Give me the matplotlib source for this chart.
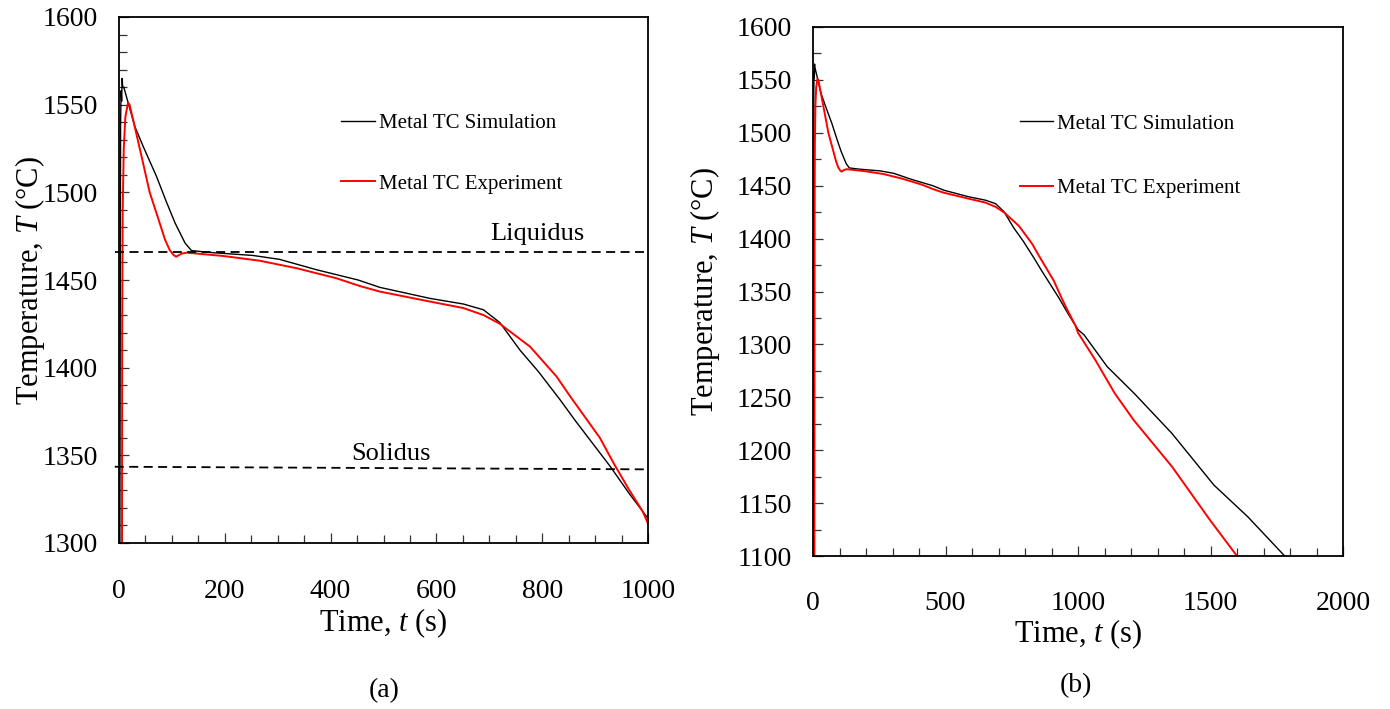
import matplotlib
matplotlib.use("Agg")
import matplotlib.pyplot as plt
from matplotlib.ticker import MultipleLocator

plt.rcParams['font.family'] = ['Liberation Serif', 'DejaVu Serif']
plt.rcParams['mathtext.fontset'] = 'custom'
plt.rcParams['mathtext.rm'] = 'Liberation Serif'
plt.rcParams['mathtext.it'] = 'Liberation Serif:italic'

# ---- data ----
t_sim = [0, 3, 4, 5, 6, 7, 9, 30, 46, 71, 89, 106, 125, 137, 172, 253, 303, 374,
         452, 493, 588, 651, 689, 720, 758, 793, 834, 862, 929, 965, 1000, 1023,
         1110, 1211, 1354, 1513, 1641, 1780, 1800]
T_sim = [1000, 1540, 1558, 1552, 1565, 1560, 1560, 1537.5, 1526, 1509, 1495, 1482.5,
         1471, 1466.8, 1465.7, 1464, 1461.8, 1455.8, 1450, 1445.8, 1439.5, 1436.3,
         1433, 1425.7, 1410, 1397.7, 1381.6, 1370, 1343.5, 1328, 1314, 1309,
         1279, 1254, 1216, 1167, 1137, 1100, 1095]

t_exp = [0, 5, 6, 7, 9, 12, 17, 20, 27, 40, 58, 71, 87, 96, 103, 108, 118, 128, 197,
         266, 336, 411, 455, 493, 588, 651, 689, 720, 777, 827, 852, 909, 936, 963,
         990, 1000, 1066, 1138, 1210, 1355, 1498, 1600, 1620]
T_exp = [1000, 1010, 1420, 1490, 1525, 1543, 1551, 1550, 1541, 1524, 1500, 1488, 1473,
         1467, 1464.3, 1463.3, 1465, 1465.6, 1463.7, 1461, 1456.7, 1451, 1446.6,
         1443.4, 1437.7, 1434, 1430, 1425, 1412, 1395, 1384, 1360, 1345, 1331,
         1318, 1311, 1285, 1254, 1228.5, 1184.4, 1134, 1100, 1094]

liq_t = [-8, 1000]
liq_T = [1466, 1466]
sol_t = [-8, 1000]
sol_T = [1343.5, 1342]

sim_label = "Metal TC Simulation"
exp_label = "Metal TC Experiment"

W, H = 1390, 709
fig = plt.figure(figsize=(W / 100, H / 100), dpi=100)

def px_axes(x0, y0, x1, y1):
    return fig.add_axes([x0 / W, 1 - y1 / H, (x1 - x0) / W, (y1 - y0) / H])

axa = px_axes(119, 17, 648, 543)
axb = px_axes(813, 27, 1343, 556)

for ax in (axa, axb):
    ax.plot(t_sim, T_sim, color='black', lw=1.0, label=sim_label)
    ax.plot(t_exp, T_exp, color='#ff0000', lw=1.4, label=exp_label)
    for sp in ax.spines.values():
        sp.set_linewidth(1.3)
    ax.tick_params(which='both', direction='in', top=False, right=False,
                   labelsize=20, color='#333333')
    ax.tick_params(which='major', length=7, width=0.9)
    ax.tick_params(which='minor', length=6, width=0.9)
    ax.tick_params(axis='y', pad=15)
    ax.set_xlabel(r"Time, $t$ (s)", fontsize=22, va='center')
    ax.set_ylabel(r"Temperature, $T$ (°C)", fontsize=22, va='center')

axa.tick_params(axis='x', pad=26)
axb.tick_params(axis='x', pad=25)

# panel (a)
axa.plot(liq_t, liq_T, color='black', lw=1.3, ls=(0, (5, 3)), clip_on=False)
axa.plot(sol_t, sol_T, color='black', lw=1.3, ls=(0, (5, 3)), clip_on=False)
axa.set_xlim(0, 1000)
axa.set_ylim(1300, 1600)
axa.xaxis.set_major_locator(MultipleLocator(200))
axa.xaxis.set_minor_locator(MultipleLocator(50))
axa.yaxis.set_major_locator(MultipleLocator(50))
axa.yaxis.set_minor_locator(MultipleLocator(10))
axa.text(790, 1476, "Liquidus", fontsize=19, ha='center', va='center')
axa.text(514, 1351, "Solidus", fontsize=19, ha='center', va='center')
axa.xaxis.set_label_coords(0.5, (543 - 623) / 526)
axa.yaxis.set_label_coords((30 - 119) / 529, 0.5)
axa.legend(loc='center left', bbox_to_anchor=(0.42, 0.74), frameon=False,
           fontsize=15, handlelength=1.6, handletextpad=0.2, labelspacing=1.95,
           borderpad=0, borderaxespad=0)

# panel (b)
axb.set_xlim(0, 2000)
axb.set_ylim(1100, 1600)
axb.xaxis.set_major_locator(MultipleLocator(500))
axb.xaxis.set_minor_locator(MultipleLocator(100))
axb.yaxis.set_major_locator(MultipleLocator(50))
axb.yaxis.set_minor_locator(MultipleLocator(25))
axb.xaxis.set_label_coords(0.5, (556 - 634) / 529)
axb.yaxis.set_label_coords((705 - 813) / 530, 0.5)
axb.legend(loc='center left', bbox_to_anchor=(0.39, 0.756), frameon=False,
           fontsize=15, handlelength=1.6, handletextpad=0.2, labelspacing=2.15,
           borderpad=0, borderaxespad=0)

fig.text(384 / W, 1 - 691 / H, "(a)", fontsize=20, ha='center', va='center')
fig.text(1076 / W, 1 - 686 / H, "(b)", fontsize=20, ha='center', va='center')

fig.savefig("out.png", dpi=100)
